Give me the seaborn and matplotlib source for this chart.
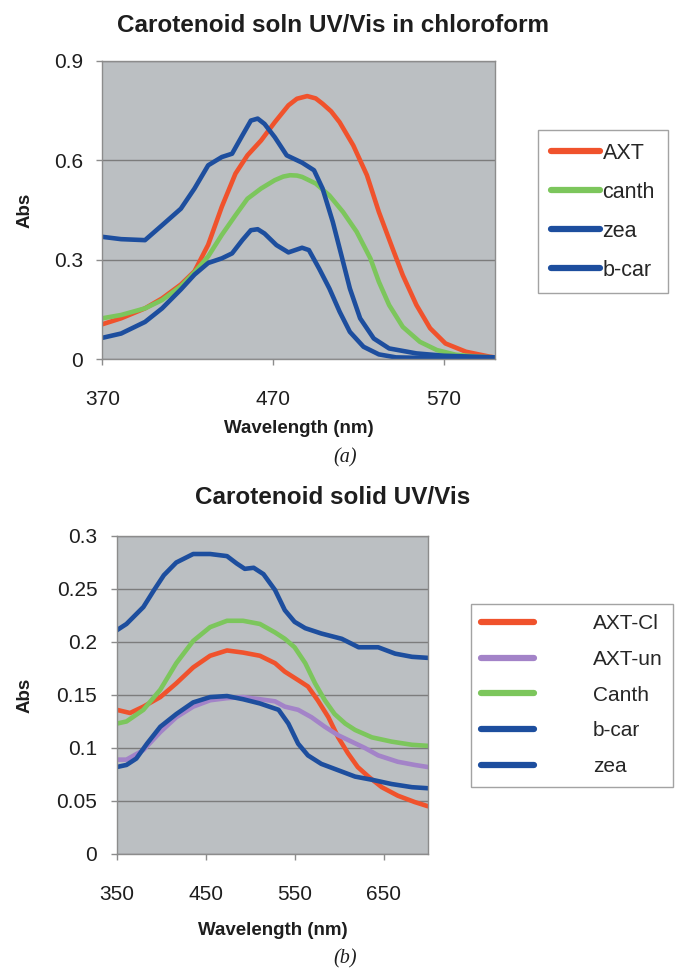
import matplotlib
matplotlib.use("Agg")
import matplotlib.pyplot as plt
from matplotlib.ticker import FuncFormatter
import pandas as pd
import seaborn as sns
import numpy as np

sns.set_theme(style="white")
plt.rcParams['font.family'] = ['Liberation Sans', 'DejaVu Sans']

# (a) solution spectra in chloroform
soln_names = ["AXT", "canth", "zea", "b-car"]
axt_x = [370, 381, 395, 405, 416, 424, 432, 440, 448, 455, 463, 471, 479, 484, 490, 495, 499, 504, 509, 517, 525, 532, 540, 546, 554, 562, 571, 583, 597, 600]
axt_y = [.105, .123, .153, .183, .225, .265, .345, .46, .56, .615, .66, .715, .766, .786, .794, .787, .771, .748, .715, .645, .555, .444, .334, .253, .163, .093, .047, .022, .007, .005]
canth_x = [370, 381, 395, 405, 416, 424, 432, 440, 448, 455, 463, 471, 476, 480, 484, 487, 495, 503, 511, 519, 527, 532, 538, 546, 556, 566, 577, 590, 600]
canth_y = [.123, .133, .153, .178, .22, .262, .31, .375, .434, .484, .515, .540, .551, .555, .554, .550, .530, .494, .444, .384, .304, .233, .163, .097, .052, .027, .013, .007, .005]
zea_x = [370, 381, 395, 405, 416, 424, 432, 440, 446, 452, 457, 461, 465, 471, 478, 487, 494, 499, 505, 510, 515, 521, 529, 538, 554, 570, 600]
zea_y = [.369, .362, .359, .404, .454, .515, .585, .610, .620, .675, .720, .726, .710, .670, .615, .593, .570, .515, .414, .314, .213, .123, .062, .032, .017, .010, .005]
bcar_x = [370, 381, 395, 405, 416, 424, 432, 440, 446, 452, 457, 461, 465, 472, 479, 487, 491, 497, 503, 509, 515, 523, 532, 542, 560, 600]
bcar_y = [.064, .077, .112, .153, .21, .255, .29, .304, .319, .359, .389, .392, .379, .344, .322, .336, .329, .273, .213, .143, .082, .037, .014, .005, .003, .002]

# (b) solid spectra
solid_names = ["AXT-Cl", "AXT-un", "Canth", "b-car", "zea"]
axtcl_x = [350, 365, 380, 399, 417, 436, 455, 474, 492, 511, 528, 539, 554, 565, 576, 588, 599, 610, 621, 633, 648, 666, 685, 700]
axtcl_y = [.136, .133, .139, .148, .161, .176, .187, .192, .190, .187, .180, .172, .164, .158, .145, .129, .110, .095, .082, .073, .063, .055, .049, .045]
axtun_x = [350, 361, 380, 399, 417, 436, 455, 474, 492, 511, 528, 539, 554, 569, 584, 599, 614, 629, 644, 666, 685, 700]
axtun_y = [.089, .089, .098, .115, .129, .139, .145, .147, .148, .146, .144, .139, .136, .129, .120, .112, .106, .100, .093, .087, .084, .082]
scanth_x = [350, 361, 380, 399, 417, 436, 455, 474, 492, 511, 528, 539, 550, 562, 573, 584, 595, 607, 618, 637, 659, 682, 700]
scanth_y = [.123, .125, .136, .155, .180, .201, .214, .220, .220, .217, .209, .203, .195, .180, .161, .145, .132, .123, .117, .110, .106, .103, .102]
sbcar_x = [350, 361, 372, 384, 399, 417, 436, 455, 474, 492, 511, 532, 543, 554, 565, 580, 599, 618, 637, 659, 682, 700]
sbcar_y = [.082, .084, .090, .104, .120, .132, .143, .148, .149, .146, .142, .136, .123, .104, .093, .085, .079, .073, .070, .066, .063, .062]
szea_x = [350, 361, 380, 392, 403, 417, 436, 455, 474, 485, 494, 504, 515, 528, 539, 550, 562, 580, 603, 622, 644, 663, 682, 700]
szea_y = [.211, .217, .233, .249, .263, .275, .283, .283, .281, .274, .269, .270, .264, .249, .230, .219, .213, .208, .203, .195, .195, .189, .186, .185]

RED, GREEN, BLUE, PURPLE = "#f0522c", "#7cc65c", "#1d4e9e", "#a383c8"
BG = "#bbbfc2"
INK = "#1e1e1e"


def long_df(names, xs, ys):
    parts = [pd.DataFrame({"nm": x, "abs": y, "sample": n}) for n, x, y in zip(names, xs, ys)]
    return pd.concat(parts, ignore_index=True)


soln = long_df(soln_names, [axt_x, canth_x, zea_x, bcar_x], [axt_y, canth_y, zea_y, bcar_y])
solid = long_df(solid_names, [axtcl_x, axtun_x, scanth_x, sbcar_x, szea_x],
                [axtcl_y, axtun_y, scanth_y, sbcar_y, szea_y])

fig = plt.figure(figsize=(6.75, 9.68), dpi=100)
ax1 = fig.add_axes([0.1516, 0.6291, 0.5817, 0.3079])
ax2 = fig.add_axes([0.1729, 0.1178, 0.4612, 0.3285])


def style_axes(ax, xticks, yticks, xlim, ylim):
    ax.set_facecolor(BG)
    ax.set_xlim(*xlim)
    ax.set_ylim(*ylim)
    ax.set_xticks(xticks)
    ax.set_yticks(yticks)
    ax.yaxis.set_major_formatter(FuncFormatter(lambda v, p: "%g" % round(v, 3)))
    ax.grid(axis="y", color="#7c7c7c", lw=1)
    ax.grid(axis="x", visible=False)
    ax.set_axisbelow(True)
    for s in ax.spines.values():
        s.set_color("#8c8c8c")
        s.set_linewidth(1)
    ax.tick_params(axis="both", direction="out", length=4, width=1, color="#8c8c8c",
                   labelsize=15, labelcolor=INK)
    ax.tick_params(axis="x", pad=18.5, bottom=True)
    ax.tick_params(axis="y", pad=10, left=True)
    ax.set_xlabel("Wavelength (nm)", fontsize=13.5, fontweight="bold", color=INK)
    ax.set_ylabel("Abs", fontsize=13.5, fontweight="bold", color=INK)


sns.lineplot(data=soln, x="nm", y="abs", hue="sample", hue_order=soln_names,
             palette={"AXT": RED, "canth": GREEN, "zea": BLUE, "b-car": BLUE},
             estimator=None, sort=False, lw=3.3, ax=ax1)
style_axes(ax1, [370, 470, 570], [0, 0.3, 0.6, 0.9], (370, 600), (0, 0.9))
ax1.xaxis.set_label_coords(0.5, -0.206)
ax1.yaxis.set_label_coords(-0.174, 0.5)

sns.lineplot(data=solid, x="nm", y="abs", hue="sample", hue_order=solid_names,
             palette={"AXT-Cl": RED, "AXT-un": PURPLE, "Canth": GREEN, "b-car": BLUE, "zea": BLUE},
             estimator=None, sort=False, lw=3.3, ax=ax2)
style_axes(ax2, [350, 450, 550, 650], [0, 0.05, 0.1, 0.15, 0.2, 0.25, 0.3], (350, 700), (0, 0.3))
ax2.xaxis.set_label_coords(0.5, -0.213)
ax2.yaxis.set_label_coords(-0.266, 0.5)

# legends to the right, Excel style
h, l = ax1.get_legend_handles_labels()
leg1 = ax1.legend(h, l, loc="upper left", bbox_to_anchor=(538 / 675, 1 - 130 / 968),
                  bbox_transform=fig.transFigure, borderaxespad=0, fontsize=15.5,
                  handlelength=2.3, handletextpad=0.1, labelspacing=0.83,
                  frameon=True, fancybox=False, edgecolor="#8c8c8c", borderpad=0.6)
leg1.get_frame().set_linewidth(1)
for ln in leg1.get_lines():
    ln.set_linewidth(4.5)
    ln.set_solid_capstyle("round")

h, l = ax2.get_legend_handles_labels()
leg2 = ax2.legend(h, l, loc="upper left", bbox_to_anchor=(471 / 675, 1 - 604 / 968),
                  bbox_transform=fig.transFigure, borderaxespad=0, fontsize=15,
                  handlelength=2.5, handletextpad=2.85, labelspacing=0.8,
                  frameon=True, fancybox=False, edgecolor="#8c8c8c", borderpad=0.5)
leg2.get_frame().set_linewidth(1)
for ln in leg2.get_lines():
    ln.set_linewidth(4.5)
    ln.set_solid_capstyle("round")

fig.text(333 / 675, 1 - 25 / 968, "Carotenoid soln UV/Vis in chloroform",
         ha="center", va="center", fontsize=17.5, fontweight="bold", color=INK)
fig.text(333 / 675, 1 - 497 / 968, "Carotenoid solid UV/Vis",
         ha="center", va="center", fontsize=17.5, fontweight="bold", color=INK)
fig.text(345 / 675, 1 - 458 / 968, "(a)", ha="center", va="center", fontsize=14.5,
         family=["Liberation Serif", "DejaVu Serif"], style="italic", color=INK)
fig.text(345 / 675, 1 - 959 / 968, "(b)", ha="center", va="center", fontsize=14.5,
         family=["Liberation Serif", "DejaVu Serif"], style="italic", color=INK)

fig.savefig("out.png", dpi=100, facecolor="white")
